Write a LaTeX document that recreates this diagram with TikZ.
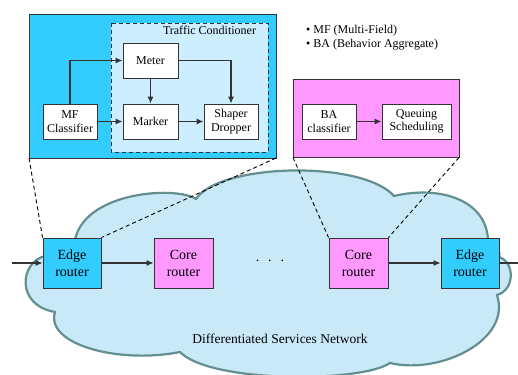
\documentclass[tikz,border=0pt]{standalone}
\usepackage{fontspec}
\setmainfont{Liberation Serif}
\usetikzlibrary{arrows.meta}
\definecolor{cyanbox}{HTML}{33CCFF}
\definecolor{lightbox}{HTML}{CCEEFF}
\definecolor{pinkbox}{HTML}{FF99FF}
\definecolor{cloudfill}{HTML}{C9E9F9}
\definecolor{cloudline}{HTML}{638F8F}
\definecolor{linegray}{HTML}{333333}
\tikzset{
  txt/.style={font=\fontsize{12}{13.5}\selectfont},
  bigtxt/.style={font=\fontsize{14}{17}\selectfont},
  inbox/.style={txt, draw=linegray, line width=0.9pt, fill=white, align=center, inner sep=0pt, minimum height=35pt},
  router/.style={bigtxt, draw=linegray, line width=0.9pt, align=center, inner sep=0pt, minimum height=50pt},
  conn/.style={draw=linegray, line width=1.1pt, -{Latex[length=7pt,width=6pt]}},
  plainconn/.style={draw=linegray, line width=1.1pt},
  zoomline/.style={draw=black, line width=0.9pt, dash pattern=on 4pt off 3pt},
}
\begin{document}
\begin{tikzpicture}[x=1pt,y=-1pt]
\useasboundingbox (0,0) rectangle (518,374);
% cloud
\path[fill=cloudfill, draw=cloudline, line width=2.2pt]
  (74,250) .. controls (73,192) and (175,185) .. (196,199)
  .. controls (220,163) and (362,160) .. (394,196)
  .. controls (440,185) and (490,200) .. (488,245)
  .. controls (500,250) .. (499,257)
  .. controls (515,262) and (515,290) .. (497,295)
  .. controls (512,340) and (440,375) .. (390,363)
  .. controls (360,383) and (210,383) .. (180,352)
  .. controls (120,364) and (45,345) .. (55,312)
  .. controls (15,305) and (20,262) .. (45,256)
  -- cycle;
% top-left blue panel
\path[fill=cyanbox, draw=linegray, line width=0.9pt] (29,14) rectangle (276,158);
\path[fill=lightbox, draw=linegray, line width=0.9pt, dash pattern=on 4pt off 3pt] (111,23) rectangle (268,152);
\node[txt, anchor=base] (tc) at (209.5,35) {Traffic Conditioner};
\node[inbox, minimum width=54pt] (mf) at (70,121.5) {MF\\Classifier};
\node[inbox, minimum width=55pt] (meter) at (150.5,60.5) {Meter};
\node[inbox, minimum width=55pt] (marker) at (150.5,121.5) {Marker};
\node[inbox, minimum width=54pt] (shaper) at (231,121.5) {Shaper\\Dropper};
\draw[conn] (mf.north) |- (meter.west);
\draw[conn] (mf.east) -- (marker.west);
\draw[conn] (meter.south) -- (marker.north);
\draw[conn] (meter.east) -| (shaper.north);
\draw[conn] (marker.east) -- (shaper.west);
% pink panel
\path[fill=pinkbox, draw=linegray, line width=0.9pt] (293,79) rectangle (459,157.5);
\node[inbox, minimum width=54pt] (ba) at (329,121.5) {BA\\classifier};
\node[inbox, minimum width=69pt] (queue) at (416.5,121.5) {Queuing\\Scheduling};
\draw[conn] (ba.east) -- (queue.west);
% legend
\node[txt, anchor=base west, inner sep=0pt] (l1) at (306,34) {\textbullet\ MF (Multi-Field)};
\node[txt, anchor=base west, inner sep=0pt] (l2) at (306,48) {\textbullet\ BA (Behavior Aggregate)};
% routers
\node[router, fill=cyanbox, minimum width=58pt] (e1) at (72,263) {Edge\\router};
\node[router, fill=pinkbox, minimum width=59pt] (c1) at (183.5,263) {Core\\router};
\node[router, fill=pinkbox, minimum width=59pt] (c2) at (358.5,263) {Core\\router};
\node[router, fill=cyanbox, minimum width=58pt] (e2) at (470,263) {Edge\\router};
\coordinate (in) at (12,263);
\coordinate (out) at (518,263);
\draw[conn] (in) -- (e1.west);
\draw[conn] (e1.east) -- (c1.west);
\draw[conn] (c2.east) -- (e2.west);
\draw[plainconn] (e2.east) -- (out);
\node[bigtxt, anchor=base, inner sep=0pt] (dots) at (270,261) {.\hspace{9pt}.\hspace{9pt}.};
\node[font=\fontsize{13.5}{16}\selectfont, anchor=base] (net) at (280,343) {Differentiated Services Network};
% zoom lines
\coordinate (bl) at (29,158);
\coordinate (br) at (276,158);
\coordinate (pl) at (293,157.5);
\coordinate (pr) at (459,157.5);
\draw[zoomline] (bl) -- (e1.north west);
\draw[zoomline] (br) -- (e1.north east);
\draw[zoomline] (pl) -- (c2.north west);
\draw[zoomline] (pr) -- (c2.north east);
\end{tikzpicture}
\end{document}
